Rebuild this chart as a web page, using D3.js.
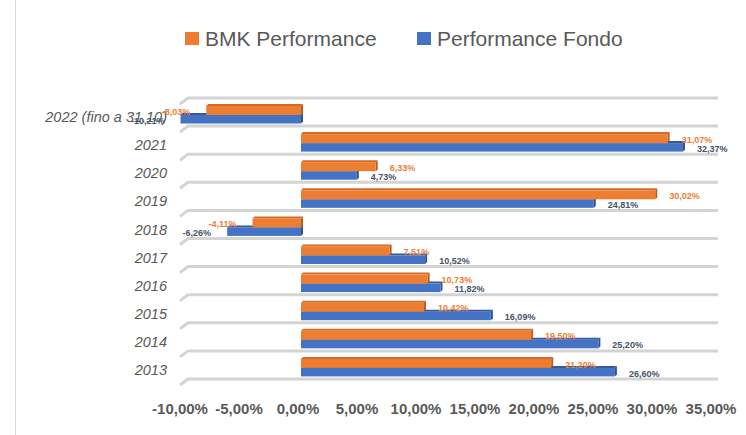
<!DOCTYPE html>
<html>
<head>
<meta charset="utf-8">
<script src="https://cdn.jsdelivr.net/npm/d3@7"></script>
<style>
  body { margin: 0; background: #fff; }
  svg { display: block; font-family: "Liberation Sans", Arial, sans-serif; }
</style>
</head>
<body>
<svg id="chart" width="746" height="435"></svg>
<script>
// categorie dall'alto verso il basso
const categories = ["2022 (fino a 31.10)", "2021", "2020", "2019", "2018", "2017", "2016", "2015", "2014", "2013"];
const bmkPerf = [-8.03, 31.07, 6.33, 30.02, -4.11, 7.51, 10.73, 10.42, 19.50, 21.20];
const fondoPerf = [-10.21, 32.37, 4.73, 24.81, -6.26, 10.52, 11.82, 16.09, 25.20, 26.60];
const tickValues = [-10, -5, 0, 5, 10, 15, 20, 25, 30, 35];
const seriesNames = ["BMK Performance", "Performance Fondo"];

const svg = d3.select('#chart');

const it = d3.formatLocale({ decimal: ",", thousands: ".", grouping: [3], currency: ["", "€"], minus: "-" });
const pct = v => it.format(".2f")(v) + "%";

const x = d3.scaleLinear().domain([-10, 35]).range([183, 714]);
const y = d3.scaleBand().domain(categories).range([98, 379]).padding(0);

const colors = {
  bmk: { front: "#ED7D31", side: "#B35E22", top: "#D36A25", label: "#ED7D31" },
  fondo: { front: "#4472C4", side: "#2F528F", top: "#35599C", label: "#44546A" }
};

// bordo del grafico
svg.append('line')
  .attr('x1', 15.5).attr('x2', 15.5).attr('y1', 0).attr('y2', 435)
  .attr('stroke', '#d9d9d9');

// legenda
const legend = svg.append('g');
const legendItems = [
  { name: seriesNames[0], color: colors.bmk.front, x: 185 },
  { name: seriesNames[1], color: colors.fondo.front, x: 417 }
];
legendItems.forEach(d => {
  legend.append('rect')
    .attr('x', d.x).attr('y', 32).attr('width', 14).attr('height', 13)
    .attr('fill', d.color);
  legend.append('text')
    .attr('x', d.x + 20).attr('y', 46)
    .attr('font-size', 21).attr('fill', '#595959')
    .text(d.name);
});

// griglia 3D
const gridYs = categories.map(c => y(c)).concat([y.range()[1]]);
const grid = svg.append('g');
gridYs.forEach(gy => {
  grid.append('path')
    .attr('d', `M180,${gy + 6} L188,${gy} L718,${gy}`)
    .attr('fill', 'none')
    .attr('stroke', '#d4d4d4')
    .attr('stroke-width', 3);
});

// etichette categorie
svg.append('g').selectAll('text')
  .data(categories)
  .join('text')
  .attr('x', 167)
  .attr('y', d => y(d) + y.bandwidth() - 9)
  .attr('dy', '0.35em')
  .attr('text-anchor', 'end')
  .attr('font-size', 14.5)
  .attr('font-style', 'italic')
  .attr('fill', '#595959')
  .text(d => d);

// barre con effetto 3D
const dx = 2, dy = 2;
const drawBar = (g, v, top, h, c) => {
  const x0 = Math.min(x(0), x(v));
  const x1 = Math.max(x(0), x(v));
  g.append('polygon')
    .attr('points', `${x0},${top} ${x0 + dx},${top - dy} ${x1 + dx},${top - dy} ${x1},${top}`)
    .attr('fill', c.top);
  g.append('polygon')
    .attr('points', `${x1},${top} ${x1 + dx},${top - dy} ${x1 + dx},${top + h - dy} ${x1},${top + h}`)
    .attr('fill', c.side);
  g.append('rect')
    .attr('x', x0).attr('y', top).attr('width', x1 - x0).attr('height', h)
    .attr('fill', c.front);
};

const bars = svg.append('g');
categories.forEach((cat, i) => {
  const b = y(cat);
  drawBar(bars, fondoPerf[i], b + 17, 8.5, colors.fondo);
  drawBar(bars, bmkPerf[i], b + 8, 9, colors.bmk);
});

// etichette dati
const labels = svg.append('g')
  .attr('font-size', 9).attr('font-weight', 'bold');
const addLabel = (v, cy, c) => {
  const pos = v >= 0;
  labels.append('text')
    .attr('x', pos ? x(v) + 14 : x(v) - 16)
    .attr('y', cy)
    .attr('dy', '0.35em')
    .attr('text-anchor', pos ? 'start' : 'end')
    .attr('fill', c.label)
    .text(pct(v));
};
categories.forEach((cat, i) => {
  const b = y(cat);
  addLabel(bmkPerf[i], b + 13.5, colors.bmk);
  addLabel(fondoPerf[i], b + 22.5, colors.fondo);
});

// asse X
svg.append('g').selectAll('text')
  .data(tickValues)
  .join('text')
  .attr('x', d => x(d) - 3)
  .attr('y', 414)
  .attr('text-anchor', 'middle')
  .attr('font-size', 15)
  .attr('font-weight', 'bold')
  .attr('fill', '#595959')
  .text(d => pct(d));
</script>
</body>
</html>
